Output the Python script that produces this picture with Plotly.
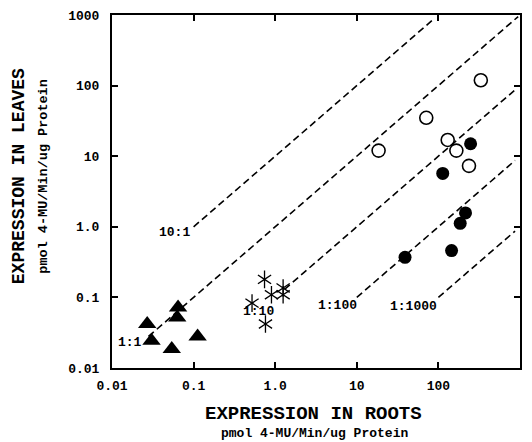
import plotly.graph_objects as go
import numpy as np

# Data
tri_x = [0.027, 0.0305, 0.054, 0.0645, 0.063, 0.112]
tri_y = [0.042, 0.0244, 0.0186, 0.072, 0.052, 0.028]

ast_x = [0.74, 0.52, 0.90, 0.76, 1.25, 1.25]
ast_y = [0.18, 0.083, 0.109, 0.042, 0.136, 0.109]

open_x = [18.5, 71, 331, 130, 166, 237]
open_y = [12, 35, 119, 17, 12, 7.3]

fill_x = [248, 113, 215, 185, 145, 39]
fill_y = [15, 5.7, 1.57, 1.12, 0.46, 0.37]

ratios = [10, 1, 0.1, 0.01, 0.001]
ratio_labels = ["10:1", "1:1", "1:10", "1:100", "1:1000"]
line_x_start = [0.1, 0.028, 1.3, 10, 100]
line_x_end = [90, 950, 850, 870, 870]
label_x = [0.0579, 0.0168, 0.63, 5.79, 50.1]
label_y = [0.824, 0.0231, 0.0634, 0.0762, 0.0738]

tick_vals = [0.01, 0.1, 1, 10, 100, 1000]
tick_text = ["0.01", "0.1", "1.0", "10", "100", "1000"]

FONT = "Liberation Mono, Courier New, monospace"

fig = go.Figure()

for r, x0, x1 in zip(ratios, line_x_start, line_x_end):
    xs = [x0, x1]
    ys = [x0 * r, x1 * r]
    fig.add_trace(go.Scatter(x=xs, y=ys, mode="lines",
                             line=dict(color="black", width=1.6, dash="7px,4px"),
                             showlegend=False, hoverinfo="skip"))

fig.add_trace(go.Scatter(x=tri_x, y=tri_y, mode="markers",
                         marker=dict(symbol="triangle-up", size=16, color="black"),
                         showlegend=False))
for sym in ["y-up-open", "y-down-open"]:
    fig.add_trace(go.Scatter(x=ast_x, y=ast_y, mode="markers",
                             marker=dict(symbol=sym, size=11, color="black",
                                         line=dict(color="black", width=1.3)),
                             showlegend=False))
fig.add_trace(go.Scatter(x=open_x, y=open_y, mode="markers",
                         marker=dict(symbol="circle-open", size=13, color="black",
                                     line=dict(color="black", width=1.6)),
                         showlegend=False))
fig.add_trace(go.Scatter(x=fill_x, y=fill_y, mode="markers",
                         marker=dict(symbol="circle", size=13, color="black"),
                         showlegend=False))

anns = []
for t, lx, ly in zip(ratio_labels, label_x, label_y):
    anns.append(dict(x=np.log10(lx), y=np.log10(ly), xref="x", yref="y", text="<b>" + t + "</b>",
                     showarrow=False, xanchor="center", yanchor="middle",
                     font=dict(family=FONT, size=13, color="black")))

# page pixel -> paper coords (plot area spans page x 112..512, y 15..368)
def px2paper_x(px):
    return (px - 112) / 400.0

def px2paper_y(py):
    return (368 - py) / 353.0

title_common = dict(xref="paper", yref="paper", showarrow=False,
                    xanchor="center", yanchor="middle")
anns += [
    dict(x=px2paper_x(310), y=px2paper_y(414), text="<b>EXPRESSION IN ROOTS</b>",
         font=dict(family=FONT, size=19, color="black"), **title_common),
    dict(x=px2paper_x(311), y=px2paper_y(433), text="<b>pmol 4-MU/Min/ug Protein</b>",
         font=dict(family=FONT, size=13, color="black"), **title_common),
    dict(x=px2paper_x(21), y=px2paper_y(176), text="<b>EXPRESSION IN LEAVES</b>",
         textangle=-90, font=dict(family=FONT, size=18, color="black"), **title_common),
    dict(x=px2paper_x(44), y=px2paper_y(177), text="<b>pmol 4-MU/Min/ug Protein</b>",
         textangle=-90, font=dict(family=FONT, size=13.5, color="black"), **title_common),
]

axis_common = dict(type="log", range=[-2, 3], tickvals=tick_vals, ticktext=tick_text,
                   ticks="inside", ticklen=6, tickwidth=1.5, tickcolor="black",
                   showline=True, linecolor="black", linewidth=2, mirror="ticks",
                   showgrid=False, zeroline=False, automargin=False,
                   tickfont=dict(family=FONT, size=13, color="black", weight="bold"))

# page has an 8px body margin, so the figure is offset by (8, 8)
fig.update_layout(
    width=524, height=434,
    margin=dict(l=104, r=12, t=7, b=74),
    plot_bgcolor="white", paper_bgcolor="white",
    xaxis=dict(**axis_common, ticklabelstandoff=4),
    yaxis=dict(**axis_common, ticklabelstandoff=8),
    annotations=anns,
    showlegend=False,
)

fig.write_html("out.html")
